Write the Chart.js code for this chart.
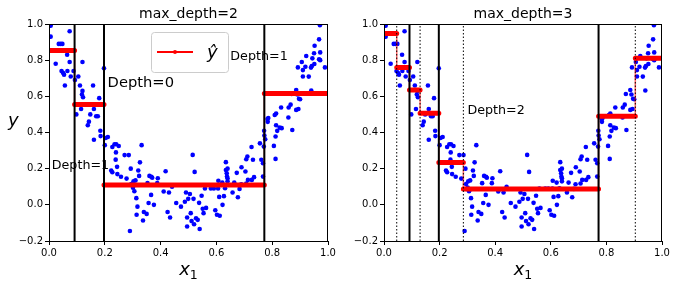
<!DOCTYPE html>
<html lang="en">
<head>
<meta charset="UTF-8">
<title>Decision tree regression</title>
<script src="https://cdn.jsdelivr.net/npm/chart.js"></script>
<style>
  html, body { margin: 0; padding: 0; background: #fff; }
  #wrap { position: relative; width: 678px; height: 287px; }
  canvas { position: absolute; top: 0; }
</style>
</head>
<body>
<div id="wrap">
  <canvas id="left" width="339" height="287" style="left:0"></canvas>
  <canvas id="right" width="339" height="287" style="left:339px"></canvas>
</div>
<script>
// training points
const xData = [0.006,0.006,0.024,0.035,0.042,0.048,0.045,0.050,0.054,0.057,0.065,0.066,0.074,0.074,0.078,0.088,0.093,0.098,0.105,0.111,
  0.115,0.118,0.120,0.120,0.122,0.139,0.143,0.148,0.158,0.161,0.161,0.169,0.175,0.180,0.184,0.185,0.197,0.200,0.203,0.211,
  0.227,0.235,0.241,0.250,0.223,0.227,0.239,0.240,0.244,0.245,0.258,0.271,0.286,0.278,0.290,0.293,0.295,0.301,0.306,0.310,
  0.303,0.313,0.317,0.314,0.320,0.323,0.326,0.332,0.337,0.340,0.350,0.353,0.357,0.360,0.367,0.370,0.366,0.376,0.390,0.388,
  0.411,0.418,0.425,0.430,0.434,0.441,0.456,0.473,0.487,0.491,0.495,0.495,0.499,0.505,0.508,0.511,0.515,0.518,0.522,0.520,
  0.527,0.533,0.538,0.540,0.547,0.551,0.554,0.563,0.559,0.580,0.591,0.596,0.602,0.606,0.607,0.610,0.612,0.621,0.622,0.627,
  0.631,0.634,0.634,0.637,0.638,0.640,0.640,0.640,0.658,0.664,0.673,0.677,0.683,0.689,0.690,0.704,0.707,0.707,0.711,0.713,
  0.726,0.731,0.727,0.735,0.756,0.761,0.767,0.767,0.771,0.772,0.770,0.775,0.783,0.786,0.784,0.806,0.812,0.812,0.809,0.814,
  0.814,0.818,0.832,0.827,0.834,0.858,0.859,0.866,0.872,0.870,0.886,0.890,0.886,0.894,0.896,0.900,0.892,0.906,0.910,0.910,
  0.922,0.919,0.931,0.940,0.939,0.942,0.944,0.950,0.952,0.968,0.968,0.972,0.972,0.971,0.989,0.951];
const yData = [0.99,0.93,0.78,0.89,0.89,0.89,0.74,0.73,0.72,0.66,0.83,0.74,0.96,0.79,0.71,0.74,0.69,0.50,0.71,0.66,
  0.53,0.61,0.63,0.79,0.595,0.44,0.46,0.50,0.66,0.36,0.53,0.49,0.49,0.59,0.41,0.38,0.755,0.33,0.37,0.375,
  0.32,0.335,0.335,0.325,0.19,0.18,0.25,0.29,0.21,0.17,0.155,0.275,0.275,0.145,-0.145,0.20,0.115,0.095,0.075,0.135,
  0.13,0.037,-0.01,-0.055,0.19,0.16,0.235,0.33,-0.087,-0.04,-0.05,0.12,0.01,0.16,0.155,0.15,0.055,0.0,0.147,0.12,
  0.074,0.186,-0.04,0.068,-0.07,0.10,0.01,-0.01,0.017,0.068,-0.07,-0.12,0.033,0.06,-0.046,-0.09,0.276,0.033,0.182,-0.107,
  -0.074,-0.083,0.011,-0.134,0.05,-0.022,-0.046,-0.017,0.09,0.09,0.09,-0.03,-0.055,0.09,0.133,0.044,-0.06,0.123,0.0,0.048,
  0.092,0.236,0.193,0.175,0.157,0.147,0.20,0.13,0.068,0.123,0.177,0.042,0.088,0.114,0.208,0.184,0.118,0.252,0.267,0.138,
  0.32,0.249,0.138,0.153,0.34,0.249,0.23,0.156,0.41,0.383,0.322,0.363,0.475,0.48,0.459,0.326,0.378,0.254,0.497,0.505,
  0.44,0.409,0.538,0.427,0.424,0.483,0.538,0.554,0.414,0.613,0.635,0.61,0.525,0.53,0.587,0.584,0.76,0.79,0.745,0.71,
  0.823,0.764,0.709,0.632,0.759,0.768,0.81,0.838,0.88,0.915,0.805,0.80,0.843,0.993,0.76,0.779];

const xTicks = [0, 0.2, 0.4, 0.6, 0.8, 1.0];
const yTicks = [-0.2, 0, 0.2, 0.4, 0.6, 0.8, 1.0];

// max_depth=2 tree
const breaks2 = [0, 0.0917, 0.1972, 0.7718, 1];
const levels2 = [0.853, 0.555, 0.110, 0.616];
const solid2 = [0.0917, 0.1972, 0.7718];

// max_depth=3 tree
const breaks3 = [0, 0.0458, 0.0917, 0.1298, 0.1972, 0.2855, 0.7718, 0.9040, 1];
const levels3 = [0.947, 0.760, 0.635, 0.507, 0.234, 0.087, 0.490, 0.811];
const solid3 = [0.0917, 0.1972, 0.7718];
const dotted3 = [0.0458, 0.1298, 0.2855, 0.9040];

const FONT = 'DejaVu Sans';

function stepPoints(breaks, levels, gaps) {
  const pts = [];
  levels.forEach((v, i) => {
    pts.push({x: breaks[i], y: v}, {x: breaks[i + 1], y: v});
    if (gaps) pts.push({x: breaks[i + 1], y: null});
  });
  return pts;
}

function vline(s, dotted) {
  return {
    type: 'line', showLine: true, order: 1,
    data: [{x: s, y: -0.2}, {x: s, y: 1}],
    borderColor: '#000', borderWidth: dotted ? 1 : 2,
    borderDash: dotted ? [1.5, 2] : [],
    pointRadius: 0
  };
}

const decor = {
  id: 'decor',
  afterDraw(chart, args, o) {
    const {ctx, chartArea: a, scales: {x, y}} = chart;
    ctx.save();
    // frame
    ctx.strokeStyle = '#000';
    ctx.lineWidth = 1;
    const l = Math.round(a.left) + 0.5, t = Math.round(a.top) + 0.5;
    ctx.strokeRect(l, t, Math.round(a.right) - Math.round(a.left) - 1, Math.round(a.bottom) - Math.round(a.top));
    ctx.fillStyle = '#000';
    // title
    ctx.font = `14px "${FONT}"`;
    ctx.textAlign = 'center';
    ctx.textBaseline = 'alphabetic';
    const cx = (a.left + a.right) / 2;
    ctx.fillText(o.title, cx, a.top - 6);
    // x label: x_1
    ctx.textAlign = 'left';
    ctx.font = `italic 18px "${FONT}"`;
    const wx = ctx.measureText('x').width;
    ctx.font = `12.5px "${FONT}"`;
    const w1 = ctx.measureText('1').width;
    const x0 = cx - (wx + w1) / 2;
    ctx.font = `italic 18px "${FONT}"`;
    ctx.fillText('x', x0, 275);
    ctx.font = `12.5px "${FONT}"`;
    ctx.fillText('1', x0 + wx, 279);
    // y label
    if (o.ylabel) {
      ctx.font = `italic 18px "${FONT}"`;
      ctx.fillText('y', 8, 126);
    }
    // annotations
    o.notes.forEach(n => {
      ctx.font = `${n.size}px "${FONT}"`;
      ctx.fillText(n.text, x.getPixelForValue(n.x), y.getPixelForValue(n.y));
    });
    // legend
    if (o.legend) {
      const bx = a.left + 102, by = a.top + 8, bw = 77, bh = 40;
      ctx.beginPath();
      ctx.roundRect(bx + 0.5, by + 0.5, bw, bh, 3);
      ctx.fillStyle = 'rgba(255,255,255,0.8)';
      ctx.fill();
      ctx.strokeStyle = '#cccccc';
      ctx.stroke();
      ctx.strokeStyle = '#ff0000';
      ctx.lineWidth = 2;
      ctx.beginPath();
      ctx.moveTo(bx + 6, by + 20);
      ctx.lineTo(bx + 42, by + 20);
      ctx.stroke();
      ctx.fillStyle = '#ff0000';
      ctx.beginPath();
      ctx.arc(bx + 24, by + 20, 2, 0, Math.PI * 2);
      ctx.fill();
      ctx.fillStyle = '#000';
      ctx.font = `italic 18px "${FONT}"`;
      ctx.fillText('ŷ', bx + 56, by + 26);
    }
    ctx.restore();
  }
};

function makeChart(id, padLeft, padRight, axisW, breaks, levels, solid, dotted, extra) {
  const datasets = [];
  solid.forEach(s => datasets.push(vline(s, false)));
  dotted.forEach(s => datasets.push(vline(s, true)));
  datasets.push({
    type: 'line', showLine: true, order: 2,
    data: stepPoints(breaks, levels, true),
    borderColor: '#ff0000', borderWidth: 5, borderCapStyle: 'round',
    spanGaps: false, pointRadius: 0
  });
  datasets.push({
    type: 'line', showLine: true, order: 2,
    data: stepPoints(breaks, levels, false),
    borderColor: 'rgba(255,0,0,0.6)', borderWidth: 1.5, pointRadius: 0
  });
  datasets.push({
    type: 'scatter', order: 3,
    data: xData.map((v, i) => ({x: v, y: yData[i]})),
    backgroundColor: '#0000ff', borderWidth: 0, pointRadius: 2.3
  });

  const tickCfg = {
    color: '#000', font: {family: FONT, size: 10}, padding: 2,
    autoSkip: false, maxRotation: 0,
    callback: v => (v < 0 ? '\u2212' : '') + Math.abs(v).toFixed(1)
  };
  const gridCfg = {drawOnChartArea: false, drawTicks: true, tickLength: 4, tickColor: '#000', tickWidth: 1};

  return new Chart(document.getElementById(id), {
    type: 'scatter',
    data: {datasets},
    options: {
      responsive: false, animation: false, events: [],
      layout: {padding: {left: padLeft, right: padRight, top: 24, bottom: 26}},
      plugins: {legend: {display: false}, tooltip: {enabled: false}, title: {display: false}, decor: extra},
      scales: {
        x: {
          type: 'linear', min: 0, max: 1,
          afterBuildTicks: s => { s.ticks = xTicks.map(v => ({value: v})); },
          afterFit: s => { s.height = 20; },
          ticks: tickCfg, grid: gridCfg, border: {display: false}
        },
        y: {
          type: 'linear', min: -0.2, max: 1,
          afterBuildTicks: s => { s.ticks = yTicks.map(v => ({value: v})); },
          afterFit: s => { s.width = axisW; },
          ticks: tickCfg, grid: gridCfg, border: {display: false}
        }
      }
    },
    plugins: [decor]
  });
}

makeChart('left', 0, 11, 49, breaks2, levels2, solid2, [], {
  title: 'max_depth=2', ylabel: true, legend: true,
  notes: [
    {text: 'Depth=0', x: 0.21, y: 0.65, size: 14.7},
    {text: 'Depth=1', x: 0.01, y: 0.2, size: 12.7},
    {text: 'Depth=1', x: 0.65, y: 0.8, size: 12.7}
  ]
});

makeChart('right', 0, 16, 45, breaks3, levels3, solid3, dotted3, {
  title: 'max_depth=3', ylabel: false, legend: false,
  notes: [
    {text: 'Depth=2', x: 0.3, y: 0.5, size: 12.7}
  ]
});
</script>
</body>
</html>
